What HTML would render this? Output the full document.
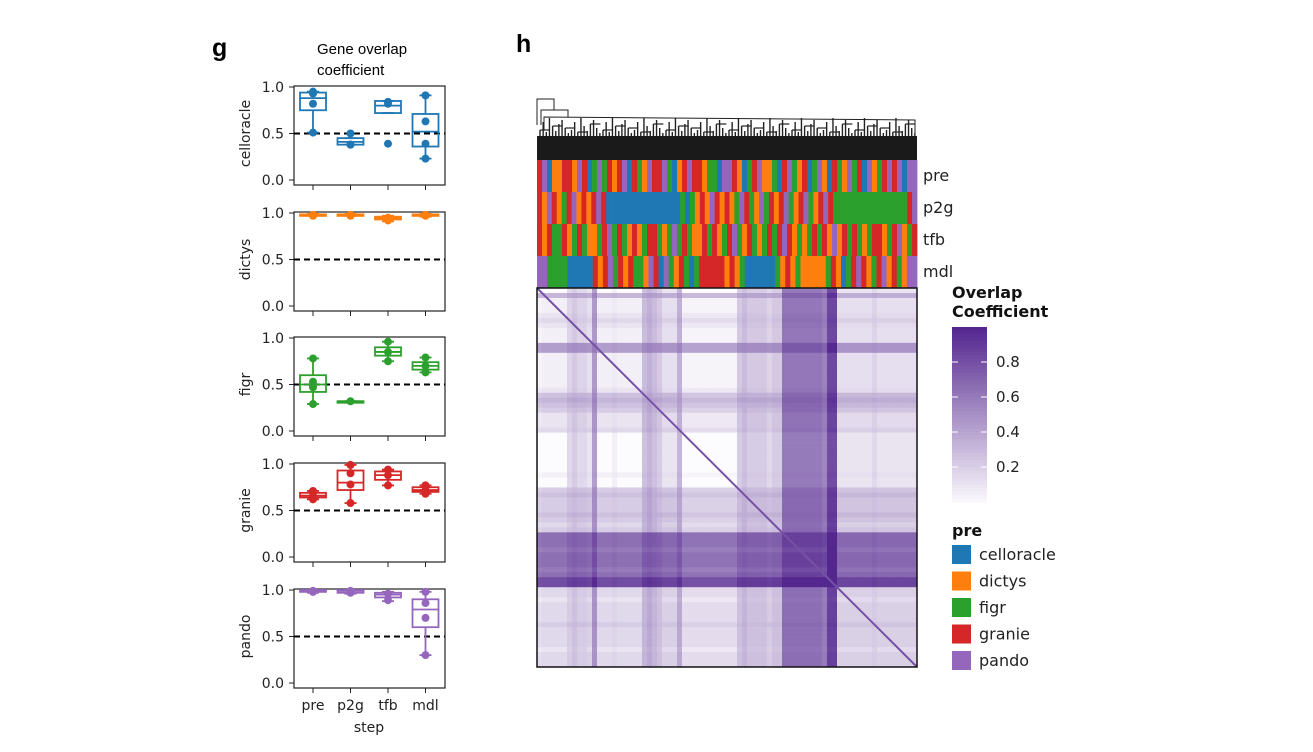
<!DOCTYPE html>
<html><head><meta charset="utf-8"><style>
body{margin:0;background:#fff}
svg{display:block;font-family:"DejaVu Sans","Liberation Sans",sans-serif}
</style></head><body>
<svg id="fig" width="1313" height="752" viewBox="0 0 1313 752" xmlns="http://www.w3.org/2000/svg">
<text x="212" y="56" font-size="25" font-weight="bold" font-family="Liberation Sans,sans-serif">g</text>
<text x="516" y="52" font-size="25" font-weight="bold" font-family="Liberation Sans,sans-serif">h</text>
<text x="317" y="54" font-size="15" font-family="Liberation Sans,sans-serif">Gene overlap</text>
<text x="317" y="75" font-size="15" font-family="Liberation Sans,sans-serif">coefficient</text>
<g id="boxes"></g>
<g id="heat"></g>
</svg>
<script>
const NS="http://www.w3.org/2000/svg";
const svg=document.getElementById('fig');
function mk(tag,attrs,parent){const e=document.createElementNS(NS,tag);for(const k in attrs)e.setAttribute(k,attrs[k]);(parent||svg).appendChild(e);return e;}

// ---------- Box plot data ----------
const methods=["celloracle","dictys","figr","granie","pando"];
const steps=["pre","p2g","tfb","mdl"];
const colors=["#1f77b4","#ff7f0e","#2ca02c","#d62728","#9467bd"];
// [whisLo, q1, median, q3, whisHi]
const stats=[
 [[0.51,0.75,0.88,0.94,0.95],[0.38,0.38,0.41,0.45,0.45],[0.72,0.72,0.80,0.85,0.85],[0.23,0.36,0.52,0.71,0.91]],
 [[0.97,0.975,0.98,0.985,0.99],[0.97,0.975,0.98,0.985,0.99],[0.91,0.93,0.945,0.96,0.97],[0.96,0.975,0.98,0.985,0.99]],
 [[0.29,0.42,0.50,0.60,0.78],[0.32,0.32,0.32,0.32,0.32],[0.75,0.81,0.85,0.90,0.96],[0.63,0.66,0.70,0.74,0.79]],
 [[0.62,0.64,0.66,0.69,0.71],[0.58,0.72,0.80,0.93,0.99],[0.77,0.83,0.88,0.92,0.94],[0.68,0.70,0.72,0.75,0.77]],
 [[0.97,0.98,0.99,1.0,1.0],[0.96,0.97,0.99,1.0,1.0],[0.88,0.92,0.95,0.97,0.98],[0.30,0.60,0.79,0.90,0.98]]
];
const points=[
 [[0.95,0.93,0.82,0.51],[0.50,0.38,0.38],[0.84,0.82,0.39],[0.91,0.63,0.39,0.23]],
 [[0.98,0.97],[0.98,0.97],[0.95,0.92],[0.98,0.97]],
 [[0.78,0.53,0.47,0.29],[0.32],[0.96,0.85,0.75],[0.79,0.70,0.63]],
 [[0.71,0.66,0.62],[0.99,0.90,0.78,0.58],[0.94,0.88,0.77],[0.77,0.72,0.68]],
 [[0.99,0.98],[0.99,0.97],[0.96,0.89],[0.98,0.86,0.70,0.30]]
];
const yTicks=[0.0,0.5,1.0];
const refLine=0.5;

const gB=document.getElementById('boxes');
const panelTop=[87,213,338,464,590], span=93, fx0=294, fx1=445;
const catX=i=>313+i*37.5;
methods.forEach((m,pi)=>{
  const y1=panelTop[pi], y0=y1+span;
  const Y=v=>y0-v*span;
  const g=mk('g',{},gB);
  
  
  const fr=mk('rect',{x:fx0,y:y1-1,width:fx1-fx0,height:span+6,fill:'none',stroke:'#222','stroke-width':1.2},g);
  
  
  yTicks.forEach(t=>{
    mk('line',{x1:fx0-5,x2:fx0,y1:Y(t),y2:Y(t),stroke:'#222'},g);
    const tl=mk('text',{x:fx0-10,y:Y(t)+5,'font-size':14,'text-anchor':'end',fill:'#222'},g);
    tl.textContent=t.toFixed(1);
    
    
  });
  steps.forEach((s,i)=>mk('line',{x1:catX(i),x2:catX(i),y1:y0+5,y2:y0+10,stroke:'#222'},g));
  const yl=mk('text',{x:0,y:0,'font-size':14,'text-anchor':'middle',fill:'#222',transform:`translate(250,${(y1+y0)/2}) rotate(-90)`},g);
  yl.textContent=m;
  
  
  const rl=mk('line',{x1:fx0,x2:fx1,y1:Y(refLine),y2:Y(refLine),stroke:'#000','stroke-width':2,'stroke-dasharray':'6,4'},g);
  
  
  const c=colors[pi];
  stats[pi].forEach((st,i)=>{
    const x=catX(i),w=13;
    const bg=mk('g',{},g);
    
    
    mk('line',{x1:x,x2:x,y1:Y(st[0]),y2:Y(st[1]),stroke:c,'stroke-width':1.8},bg);
    mk('line',{x1:x,x2:x,y1:Y(st[3]),y2:Y(st[4]),stroke:c,'stroke-width':1.8},bg);
    mk('line',{x1:x-6,x2:x+6,y1:Y(st[0]),y2:Y(st[0]),stroke:c,'stroke-width':1.8},bg);
    mk('line',{x1:x-6,x2:x+6,y1:Y(st[4]),y2:Y(st[4]),stroke:c,'stroke-width':1.8},bg);
    mk('rect',{x:x-w,y:Y(st[3]),width:2*w,height:Math.max(1.5,Y(st[1])-Y(st[3])),fill:'none',stroke:c,'stroke-width':1.8},bg);
    mk('line',{x1:x-w,x2:x+w,y1:Y(st[2]),y2:Y(st[2]),stroke:c,'stroke-width':1.8},bg);
    points[pi][i].forEach(v=>{
      const p=mk('circle',{cx:x,cy:Y(v),r:4,fill:c},bg);
      
      
    });
  });
});
steps.forEach((s,i)=>{
  const t=mk('text',{x:catX(i),y:710,'font-size':14,'text-anchor':'middle',fill:'#222'},gB);
  t.textContent=s;
  
  
});
const xt=mk('text',{x:369,y:732,'font-size':14,'text-anchor':'middle',fill:'#222'},gB);
xt.textContent='step';



// ---------- Heatmap data ----------
const catCodes={c:"#1f77b4",o:"#ff7f0e",g:"#2ca02c",r:"#d62728",p:"#9467bd"};
const annRows=["pre","p2g","tfb","mdl"];
const annPre="rpcoorroprcgpgrorpcrgoprrpgcorprroggcpprocgrpoogcrpgorcgpocrgopgrcpogrprpcpp";
const annP2g="roprogrpororprcccccccccccccccgcgoroprorogprgopgrorpgorpgorprgggggggggggggggrp";
const annTfb="rorggrogrgoogrpgrgorogrrgogpgrgoorgrogrpgorgogrgrprogogrgroporgrgogrrogrpogr";
const annMdl="ppggggcccccrorpgrorggoprcpgorgcgrrrrrorogccccccgorogooooogrocgrprogrporgopp";
const colProfile=[0.15,0.2,0.2,0.2,0.2,0.2,0.35,0.4,0.35,0.35,0.3,0.6,0.2,0.2,0.2,0.25,0.2,0.2,0.2,0.2,0.2,0.45,0.5,0.45,0.4,0.3,0.3,0.3,0.5,0.15,0.15,0.15,0.15,0.15,0.15,0.15,0.15,0.15,0.15,0.15,0.4,0.45,0.4,0.4,0.4,0.4,0.35,0.4,0.4,0.75,0.75,0.75,0.75,0.75,0.75,0.75,0.75,0.7,0.95,0.95,0.3,0.3,0.3,0.3,0.3,0.3,0.3,0.35,0.3,0.3,0.3,0.3,0.3,0.3,0.3,0.3];
const rowProfile=[0.2,0.5,0.25,0.25,0.25,0.3,0.35,0.3,0.25,0.25,0.25,0.6,0.6,0.25,0.25,0.25,0.25,0.25,0.25,0.25,0.3,0.45,0.5,0.45,0.4,0.3,0.3,0.3,0.35,0.2,0.2,0.2,0.2,0.2,0.2,0.2,0.2,0.25,0.2,0.2,0.4,0.45,0.4,0.4,0.4,0.45,0.4,0.35,0.4,0.8,0.8,0.8,0.75,0.8,0.8,0.8,0.75,0.8,0.95,0.95,0.35,0.35,0.3,0.35,0.35,0.35,0.35,0.4,0.35,0.35,0.35,0.35,0.3,0.35,0.35,0.35];
const cbTicks=[0.2,0.4,0.6,0.8];
const legendCats=["celloracle","dictys","figr","granie","pando"];

const gH=document.getElementById('heat');
const hx0=537,hx1=917,hy0=288,hy1=667;
function purple(v){v=Math.max(0,Math.min(1,v));const a=[252,251,253],b=[84,39,143];return `rgb(${a.map((x,i)=>Math.round(x+(b[i]-x)*v)).join(',')})`;}
// dendrogram
const dg=mk('g',{},gH);


mk('rect',{x:hx0,y:136,width:hx1-hx0,height:24,fill:'#1a1a1a'},dg);
mk('polyline',{points:`537,125 537,99 554,99 554,110`,fill:'none',stroke:'#222'},dg);
mk('polyline',{points:`541,125 541,110 568,110 568,117`,fill:'none',stroke:'#222'},dg);
mk('polyline',{points:`544,130 544,117 915,120 915,138`,fill:'none',stroke:'#222'},dg);
for(let k=0;k<120;k++){const x=hx0+3+k*3.15;const h=[6,14,4,18,10,5,12,16,8,3][k%10];mk('line',{x1:x,x2:x,y1:136-h,y2:136,stroke:'#222','stroke-width':1.4},dg);
  if(k%4===0)mk('line',{x1:x,x2:x+10,y1:136-h,y2:136-h,stroke:'#222','stroke-width':1.2},dg);}
// annotation bars
[annPre,annP2g,annTfb,annMdl].forEach((s,r)=>{
  const gy=160+r*32;
  const ag=mk('g',{},gH);
  
  
  const w=(hx1-hx0)/s.length;
  for(let i=0;i<s.length;i++)mk('rect',{x:hx0+i*w,y:gy,width:w+0.4,height:32,fill:catCodes[s[i]]},ag);
  const t=mk('text',{x:923,y:gy+21,'font-size':16,fill:'#222'},gH);
  t.textContent=annRows[r];
  
  
});
// heatmap cells
const NR=rowProfile.length,NC=colProfile.length,cw=(hx1-hx0)/NC,ch=(hy1-hy0)/NR;
const cg=mk('g',{},gH);


for(let i=0;i<NR;i++)for(let j=0;j<NC;j++){
  const a=rowProfile[i],b=colProfile[j];
  const v=1.1*Math.max(a,b)+0.4*Math.min(a,b)-0.3;
  mk('rect',{x:hx0+j*cw,y:hy0+i*ch,width:cw+0.3,height:ch+0.3,fill:purple(v)},cg);
}
const dl=mk('line',{x1:hx0,y1:hy0,x2:hx1,y2:hy1,stroke:purple(0.8),'stroke-width':2},gH);


const hf=mk('rect',{x:hx0,y:hy0,width:hx1-hx0,height:hy1-hy0,fill:'none',stroke:'#111','stroke-width':1.5},gH);


// colorbar
const cbt=mk('text',{x:952,y:298,'font-size':16,'font-weight':'bold',fill:'#111'},gH);cbt.textContent='Overlap';


const cbt2=mk('text',{x:952,y:317,'font-size':16,'font-weight':'bold',fill:'#111'},gH);cbt2.textContent='Coefficient';


const cb=mk('g',{},gH);


const cbTop=327,cbBot=502,cbH=cbBot-cbTop;
for(let k=0;k<50;k++){const v=1-k/50;mk('rect',{x:952,y:cbTop+k*cbH/50,width:35,height:cbH/50+0.5,fill:purple(v)},cb);}
cbTicks.forEach(t=>{const y=cbBot-t*cbH;
  mk('line',{x1:952,x2:958,y1:y,y2:y,stroke:'#fff'},cb);mk('line',{x1:981,x2:987,y1:y,y2:y,stroke:'#fff'},cb);
  const tl=mk('text',{x:996,y:y+5,'font-size':15,fill:'#222'},cb);tl.textContent=t.toFixed(1);
  
  });
// legend
const lt=mk('text',{x:952,y:536,'font-size':16,'font-weight':'bold',fill:'#111'},gH);lt.textContent='pre';


legendCats.forEach((c,i)=>{
  const y=545+i*26.5;
  const lg=mk('g',{},gH);
  
  
  mk('rect',{x:952,y:y,width:19,height:19,fill:colors[i]},lg);
  const t=mk('text',{x:979,y:y+15,'font-size':16,fill:'#222'},lg);t.textContent=c;
});
</script>
</body></html>
